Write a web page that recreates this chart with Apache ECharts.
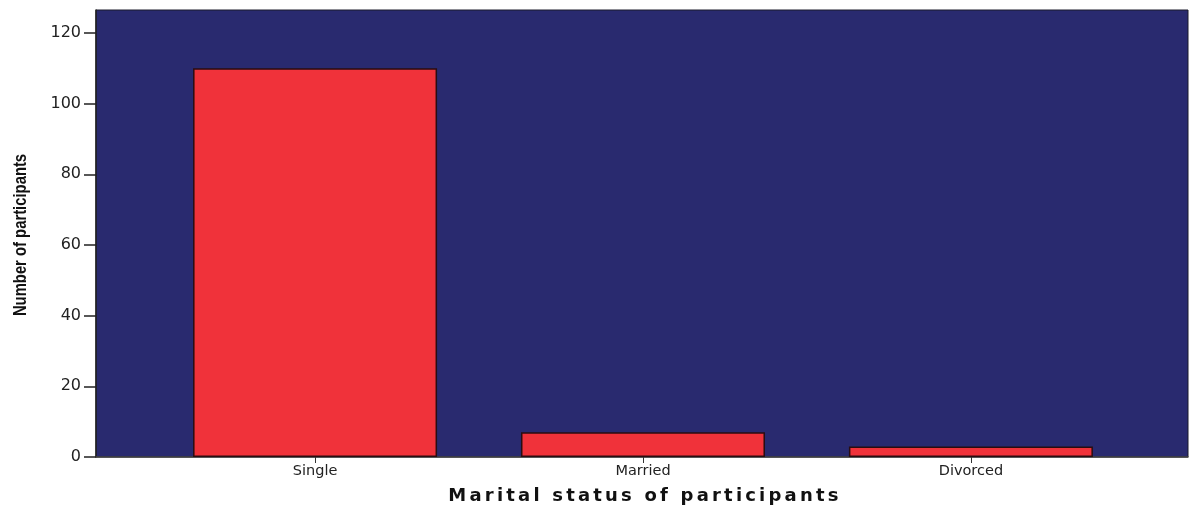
<!DOCTYPE html>
<html><head><meta charset="utf-8">
<script src="https://cdn.jsdelivr.net/npm/echarts@6/dist/echarts.min.js"></script>
<style>
html,body{margin:0;padding:0;background:#fff}
#wrap{position:relative;width:1189px;height:506px}
#c{width:1189px;height:506px}
#xt{position:absolute;left:3px;width:1284px;top:484px;text-align:center;font-family:'DejaVu Sans',sans-serif;font-weight:bold;font-size:18px;letter-spacing:3.2px;color:#111;line-height:22px;white-space:nowrap}
</style>
</head><body><div id="wrap"><div id="c"></div><div id="xt">Marital status of participants</div></div>
<script>
const categories = ['Single', 'Married', 'Divorced'];
const counts = [110, 7, 3];
const yTicks = [0, 20, 40, 60, 80, 100, 120];
const yTitle = 'Number of participants';

const chart = echarts.init(document.getElementById('c'));
const idx = categories.map((_, i) => i);
chart.setOption({
  animation: false,
  grid: {left: 96, right: 1, top: 10, bottom: 49, outerBoundsMode: 'none', containLabel: false, show: true, backgroundColor: '#292a6f', borderColor: '#1a1a2a', borderWidth: 1},
  xAxis: {
    type: 'value', min: -0.668, max: 2.662,
    axisLine: {show: true, onZero: false, lineStyle: {color: '#444', width: 1.5}},
    axisTick: {show: true, length: 6, lineStyle: {color: '#333'}, customValues: idx},
    axisLabel: {customValues: idx, formatter: v => categories[Math.round(v)], fontFamily: 'DejaVu Sans', fontSize: 14.5, color: '#222', margin: 7},
    splitLine: {show: false}
  },
  yAxis: {
    type: 'value', min: 0, max: 126.5,
    axisLine: {show: true, onZero: false, lineStyle: {color: '#222', width: 1.5}},
    axisTick: {show: true, length: 12, lineStyle: {color: '#222', width: 1.5}, customValues: yTicks},
    axisLabel: {customValues: yTicks, fontFamily: 'DejaVu Sans', fontSize: 16, color: '#222', margin: 15},
    splitLine: {show: false}
  },
  graphic: [{
    type: 'text', x: 21, y: 235, rotation: Math.PI / 2, scaleX: 0.78,
    style: {text: yTitle, font: 'bold 19px "Liberation Sans", sans-serif', fill: '#111', align: 'center', verticalAlign: 'middle'}
  }],
  series: [{
    type: 'bar', barWidth: 244,
    data: counts.map((v, i) => [i, v]),
    itemStyle: {color: '#f0323a', borderColor: '#2a0d10', borderWidth: 1.5}
  }]
});
</script></body></html>
